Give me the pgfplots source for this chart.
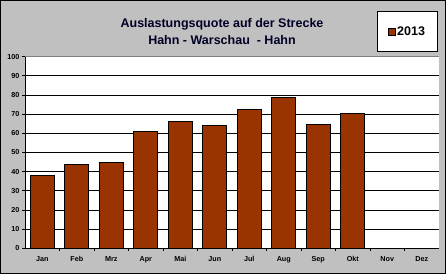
\documentclass[border=0pt]{standalone}
\usepackage{pgfplots}
\pgfplotsset{compat=1.18}
\usepackage{fontspec}
\setmainfont{Liberation Sans}
\definecolor{barbrown}{RGB}{153,51,0}
\definecolor{bggray}{RGB}{192,192,192}
\begin{document}
\begin{tikzpicture}
\fill[bggray] (0pt,0pt) rectangle (446pt,274pt);
\draw[black,line width=1pt] (0.5pt,0.5pt) rectangle (445.5pt,273.5pt);
\begin{axis}[
  at={(25pt,25.7pt)}, anchor=south west,
  scale only axis, width=414pt, height=191.6pt,
  ymin=0, ymax=100, ytick={0,10,...,100},
  xmin=-0.5, xmax=11.5,
  xtick={0,...,11},
  xticklabels={Jan,Feb,Mrz,Apr,Mai,Jun,Jul,Aug,Sep,Okt,Nov,Dez},
  minor xtick={0.5,1.5,...,10.5},
  major x tick style={draw=none},
  minor x tick style={black, line width=0.8pt},
  minor tick length=3pt,
  ytick style={black, line width=0.8pt},
  major tick length=3pt,
  tick align=outside,
  tick pos=left,
  ymajorgrids, grid style={black, line width=0.8pt},
  axis background/.style={fill=white},
  axis line style={draw=none},
  ticklabel style={font=\bfseries\fontsize{7.2}{8}\selectfont},
  yticklabel style={xshift=1pt},
  xticklabel style={yshift=-1pt, text height=5.5pt, text depth=1.6pt},
  /pgf/number format/assume math mode=true,
  legend style={at={(0.9975,1)}, anchor=south east, yshift=4.7pt, draw=black, line width=0.9pt, fill=white, inner xsep=10.5pt, inner ysep=13pt, font=\bfseries\fontsize{12.5}{14}\selectfont, legend cell align=left},
  legend image code/.code={\draw[fill=barbrown,draw=black,line width=0.6pt] (0pt,-3.5pt) rectangle (7pt,3.5pt);},
  clip=false,
]
\addplot[ybar, bar width=0.69, fill=barbrown, draw=black, line width=0.8pt] coordinates {
(0,38.2) (1,43.8) (2,44.9) (3,61.1) (4,66.3) (5,64.2) (6,72.6) (7,78.9) (8,64.8) (9,70.5)
};
\addlegendentry{2013}
\draw[black!50, line width=0.8pt] (rel axis cs:0,1) -- (rel axis cs:1,1);
\draw[black, line width=0.8pt] (rel axis cs:0,0) -- (rel axis cs:0,1);
\draw[black, line width=0.8pt] (rel axis cs:0,0) -- (rel axis cs:1,0);
\end{axis}
\node[font=\bfseries\fontsize{12.5}{17}\selectfont, align=center, text=black!85!blue] at (222pt,242.5pt) {Auslastungsquote auf der Strecke\\Hahn - Warschau \ - Hahn};
\end{tikzpicture}
\end{document}
